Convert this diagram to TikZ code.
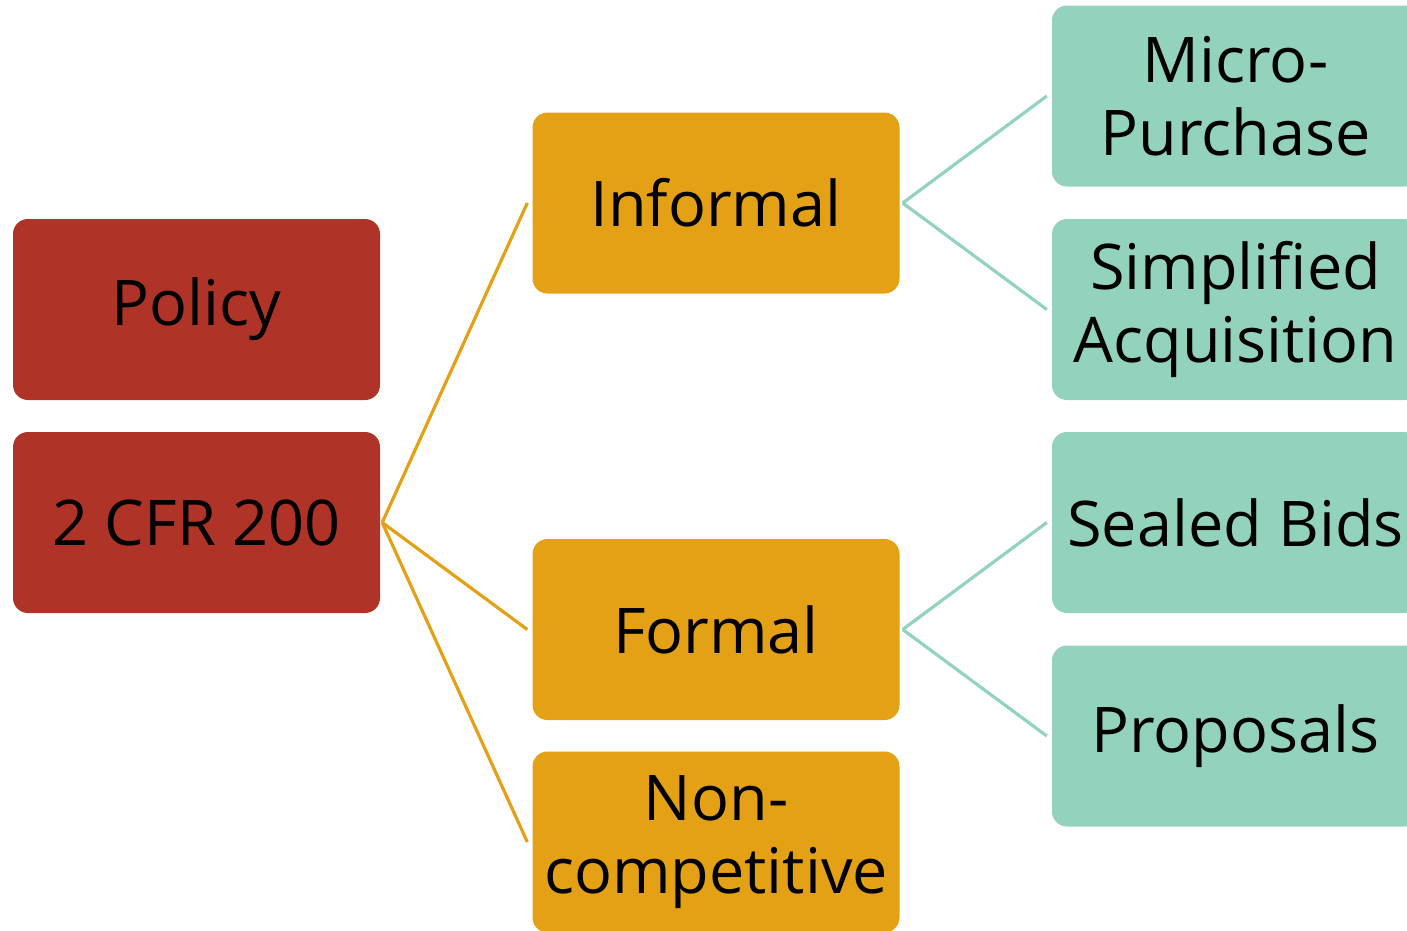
\documentclass[tikz,border=0pt]{standalone}
\usepackage{fontspec}
\setmainfont{Open Sans}
\usetikzlibrary{calc}
\definecolor{policyred}{HTML}{B03328}
\definecolor{methodgold}{HTML}{E4A115}
\definecolor{leafteal}{HTML}{93D3BE}
\tikzset{
  box/.style={rounded corners=15pt, minimum width=367pt, minimum height=181pt,
    inner sep=0pt, align=center, text=black,
    font=\fontsize{63}{73}\selectfont},
  redbox/.style={box, fill=policyred},
  goldbox/.style={box, fill=methodgold},
  tealbox/.style={box, fill=leafteal},
  goldline/.style={draw=methodgold, line width=3.2pt},
  tealline/.style={draw=leafteal, line width=3.2pt},
}
\begin{document}
\begin{tikzpicture}[x=1pt,y=-1pt]
\useasboundingbox (0,0) rectangle (1407,930);
% level 1
\node[redbox] (policy) at (196.5,309.5) {Policy};
\node[redbox] (cfr) at (196.5,522.5) {2 CFR 200};
% level 2
\node[goldbox] (informal) at (716,203) {Informal};
\node[goldbox] (formal) at (716,629.5) {Formal};
\node[goldbox] (noncomp) at (716,842) {Non-\\competitive};
% level 3
\node[tealbox] (micro) at (1235.5,96) {Micro-\\Purchase};
\node[tealbox] (simplified) at (1235.5,309.5) {Simplified\\Acquisition};
\node[tealbox] (sealed) at (1235.5,522.5) {Sealed Bids};
\node[tealbox] (proposals) at (1235.5,736) {Proposals};
% connectors
\coordinate (cfrout) at ($(cfr.east)+(2,0)$);
\foreach \t in {informal,formal,noncomp}
  \draw[goldline] (cfrout) -- ($(\t.west)+(-5,0)$);
\coordinate (infout) at ($(informal.east)+(3,0)$);
\foreach \t in {micro,simplified}
  \draw[tealline] (infout) -- ($(\t.west)+(-5,0)$);
\coordinate (forout) at ($(formal.east)+(3,0)$);
\foreach \t in {sealed,proposals}
  \draw[tealline] (forout) -- ($(\t.west)+(-5,0)$);
\end{tikzpicture}
\end{document}
